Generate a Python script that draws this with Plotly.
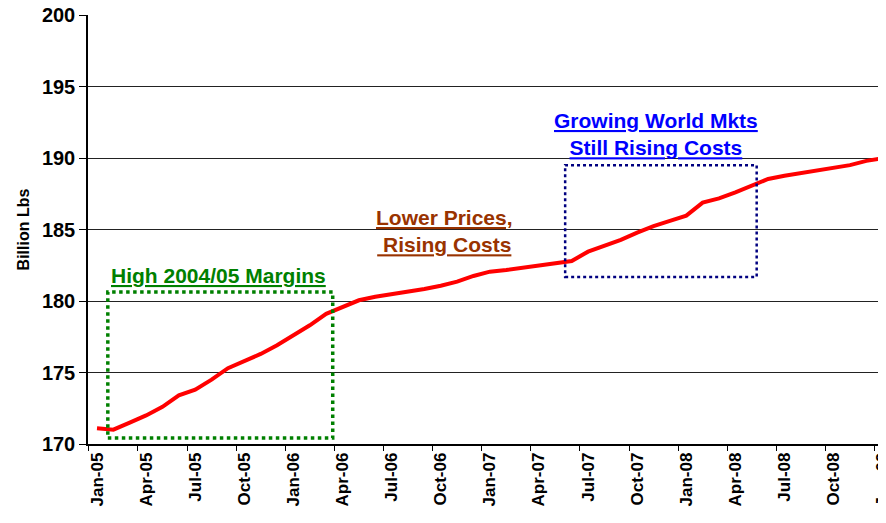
import plotly.graph_objects as go

# monthly series, Jan-05 .. Jan-09
months = ["Jan-05", "Feb-05", "Mar-05", "Apr-05", "May-05", "Jun-05", "Jul-05", "Aug-05",
          "Sep-05", "Oct-05", "Nov-05", "Dec-05", "Jan-06", "Feb-06", "Mar-06", "Apr-06",
          "May-06", "Jun-06", "Jul-06", "Aug-06", "Sep-06", "Oct-06", "Nov-06", "Dec-06",
          "Jan-07", "Feb-07", "Mar-07", "Apr-07", "May-07", "Jun-07", "Jul-07", "Aug-07",
          "Sep-07", "Oct-07", "Nov-07", "Dec-07", "Jan-08", "Feb-08", "Mar-08", "Apr-08",
          "May-08", "Jun-08", "Jul-08", "Aug-08", "Sep-08", "Oct-08", "Nov-08", "Dec-08",
          "Jan-09"]
billion_lbs = [171.1, 171.0, 171.5, 172.0, 172.6, 173.4, 173.8, 174.5,
               175.3, 175.8, 176.3, 176.9, 177.6, 178.3, 179.1, 179.6,
               180.05, 180.3, 180.47, 180.65, 180.84, 181.07, 181.35, 181.75,
               182.05, 182.17, 182.33, 182.5, 182.68, 182.8, 183.45, 183.85,
               184.27, 184.78, 185.24, 185.6, 185.97, 186.88, 187.18, 187.6,
               188.1, 188.53, 188.76, 188.93, 189.1, 189.32, 189.5, 189.8,
               189.98]
tick_labels = months[::3]
y_ticks = [170, 175, 180, 185, 190, 195, 200]

idx = list(range(len(months)))
label_pos = idx[::3]
boundary_pos = [p - 0.5 for p in label_pos]

FONT = "Arial, Liberation Sans, sans-serif"
x_range = [-0.55, 48.2]

fig = go.Figure()
fig.add_trace(go.Scatter(
    x=idx, y=billion_lbs, mode="lines",
    line=dict(color="#ff0000", width=4),
    showlegend=False, hoverinfo="skip"
))
# invisible trace on the second x axis so tick marks sit on the boundaries
fig.add_trace(go.Scatter(
    x=[x_range[0]], y=[None], xaxis="x2", showlegend=False, hoverinfo="skip"
))

# dotted callout boxes
fig.add_shape(type="rect", x0=0.66, x1=14.4, y0=170.42, y1=180.63,
              line=dict(color="#008000", width=3.5, dash="dot"))
fig.add_shape(type="rect", x0=28.6, x1=40.3, y0=181.68, y1=189.5,
              line=dict(color="#000080", width=2.5, dash="dot"))

fig.add_annotation(x=7.44, y=181.75, text="<b><u>High 2004/05 Margins</u></b>",
                   showarrow=False, font=dict(family=FONT, size=21, color="#008000"))
fig.add_annotation(x=21.25, y=184.9,
                   text="<b><u>Lower Prices,</u></b><br><b><u> Rising Costs</u></b>",
                   showarrow=False, align="center",
                   font=dict(family=FONT, size=21, color="#993300"))
fig.add_annotation(x=34.14, y=191.68,
                   text="<b><u>Growing World Mkts</u></b><br><b><u>Still Rising Costs</u></b>",
                   showarrow=False, align="center",
                   font=dict(family=FONT, size=21, color="#0000ff"))

# page body keeps an 8px margin, so the figure is sized to fit inside the window
fig.update_layout(
    width=878, height=515,
    margin=dict(l=80, r=0, t=7, b=79),
    paper_bgcolor="white", plot_bgcolor="white",
    font=dict(family=FONT, color="black"),
    xaxis=dict(
        range=x_range, tickmode="array", tickvals=label_pos,
        ticktext=["<b>%s</b>" % t for t in tick_labels],
        tickangle=-90, ticks="", showgrid=False, zeroline=False, automargin=False,
        ticklabeloverflow="allow",
        showline=True, linecolor="black", linewidth=1.5,
        tickfont=dict(family=FONT, size=17, color="black"),
    ),
    xaxis2=dict(
        range=x_range, overlaying="x", anchor="y", side="bottom",
        tickmode="array", tickvals=boundary_pos, ticks="outside", ticklen=6,
        tickcolor="black", tickwidth=1, showticklabels=False, showgrid=False,
        zeroline=False, automargin=False,
    ),
    yaxis=dict(
        range=[170, 200], tickmode="array", tickvals=y_ticks,
        ticktext=["<b>%d</b>" % v for v in y_ticks],
        ticks="outside", ticklen=7, tickcolor="black", automargin=False,
        ticklabeloverflow="allow",
        showgrid=True, gridcolor="#222222", gridwidth=1, zeroline=False,
        showline=True, linecolor="black", linewidth=1.5,
        tickfont=dict(family=FONT, size=20, color="black"),
        title=dict(text="<b>Billion Lbs</b>", font=dict(family=FONT, size=16, color="black"),
                   standoff=8),
    ),
)

fig.write_html("out.html")
